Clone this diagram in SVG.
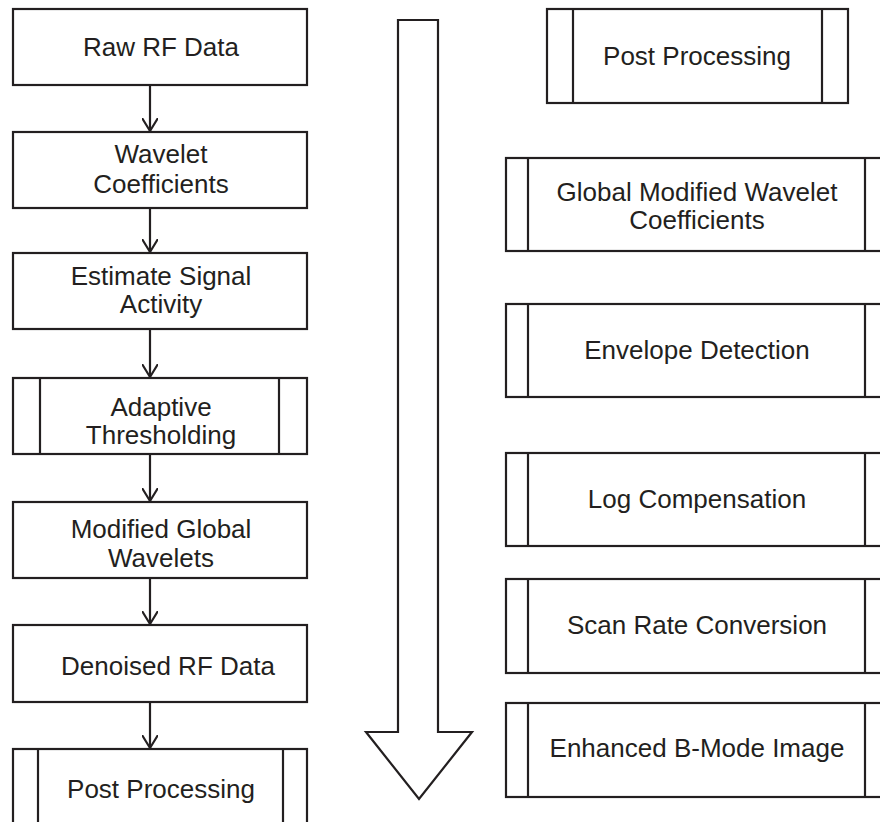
<svg xmlns="http://www.w3.org/2000/svg" width="880" height="822" viewBox="0 0 880 822">
<defs>
<style>
.box{fill:#fff;stroke:#231f20;stroke-width:2.2}
.ln{fill:none;stroke:#231f20;stroke-width:2.2}
.t{font-family:"Liberation Sans",Arial,sans-serif;font-size:26px;fill:#231f20;text-anchor:middle}
</style>
<marker id="ah" markerWidth="18" markerHeight="16" refX="13" refY="8" orient="auto" markerUnits="userSpaceOnUse">
<path d="M0,0 L13,8 L0,16" fill="none" stroke="#231f20" stroke-width="2.2"/>
</marker>
</defs>
<rect width="880" height="822" fill="#fff"/>
<g id="connectors">
<line class="ln" x1="150" y1="85" x2="150" y2="131" marker-end="url(#ah)"/>
<line class="ln" x1="150" y1="208" x2="150" y2="252" marker-end="url(#ah)"/>
<line class="ln" x1="150" y1="329" x2="150" y2="377" marker-end="url(#ah)"/>
<line class="ln" x1="150" y1="454" x2="150" y2="501" marker-end="url(#ah)"/>
<line class="ln" x1="150" y1="578" x2="150" y2="624" marker-end="url(#ah)"/>
<line class="ln" x1="150" y1="702" x2="150" y2="748" marker-end="url(#ah)"/>
</g>
<g id="bigArrow">
<polygon class="box" points="398,20 438,20 438,732 472,732 419,799 366,732 398,732"/>
</g>
<g id="rawRF">
<rect class="box" x="13" y="9" width="294" height="76"/>
<text class="t" x="161" y="56">Raw RF Data</text>
</g>
<g id="waveletCoeff">
<rect class="box" x="13" y="132" width="294" height="76"/>
<text class="t" x="161" y="163">Wavelet</text>
<text class="t" x="161" y="193">Coefficients</text>
</g>
<g id="estimate">
<rect class="box" x="13" y="253" width="294" height="76"/>
<text class="t" x="161" y="285">Estimate Signal</text>
<text class="t" x="161" y="313">Activity</text>
</g>
<g id="adaptive">
<rect class="box" x="13" y="378" width="294" height="76"/>
<line class="ln" x1="40" y1="378" x2="40" y2="454"/>
<line class="ln" x1="279" y1="378" x2="279" y2="454"/>
<text class="t" x="161" y="416">Adaptive</text>
<text class="t" x="161" y="444">Thresholding</text>
</g>
<g id="modifiedGlobal">
<rect class="box" x="13" y="502" width="294" height="76"/>
<text class="t" x="161" y="538">Modified Global</text>
<text class="t" x="161" y="567">Wavelets</text>
</g>
<g id="denoised">
<rect class="box" x="13" y="625" width="294" height="77"/>
<text class="t" x="168" y="675">Denoised RF Data</text>
</g>
<g id="postLeft">
<rect class="box" x="13" y="749" width="294" height="90"/>
<line class="ln" x1="38" y1="749" x2="38" y2="830"/>
<line class="ln" x1="283" y1="749" x2="283" y2="830"/>
<text class="t" x="161" y="798">Post Processing</text>
</g>
<g id="postRight">
<rect class="box" x="547" y="9" width="301" height="94"/>
<line class="ln" x1="573" y1="9" x2="573" y2="103"/>
<line class="ln" x1="822" y1="9" x2="822" y2="103"/>
<text class="t" x="697" y="65">Post Processing</text>
</g>
<g id="globalModified">
<rect class="box" x="506" y="158" width="381" height="93"/>
<line class="ln" x1="528" y1="158" x2="528" y2="251"/>
<line class="ln" x1="865" y1="158" x2="865" y2="251"/>
<text class="t" x="697" y="201">Global Modified Wavelet</text>
<text class="t" x="697" y="229">Coefficients</text>
</g>
<g id="envelope">
<rect class="box" x="506" y="304" width="381" height="93"/>
<line class="ln" x1="528" y1="304" x2="528" y2="397"/>
<line class="ln" x1="865" y1="304" x2="865" y2="397"/>
<text class="t" x="697" y="359">Envelope Detection</text>
</g>
<g id="logComp">
<rect class="box" x="506" y="453" width="381" height="93"/>
<line class="ln" x1="528" y1="453" x2="528" y2="546"/>
<line class="ln" x1="865" y1="453" x2="865" y2="546"/>
<text class="t" x="697" y="508">Log Compensation</text>
</g>
<g id="scanRate">
<rect class="box" x="506" y="579" width="381" height="94"/>
<line class="ln" x1="528" y1="579" x2="528" y2="673"/>
<line class="ln" x1="865" y1="579" x2="865" y2="673"/>
<text class="t" x="697" y="634">Scan Rate Conversion</text>
</g>
<g id="enhanced">
<rect class="box" x="506" y="703" width="381" height="94"/>
<line class="ln" x1="528" y1="703" x2="528" y2="797"/>
<line class="ln" x1="865" y1="703" x2="865" y2="797"/>
<text class="t" x="697" y="757">Enhanced B-Mode Image</text>
</g>
</svg>
